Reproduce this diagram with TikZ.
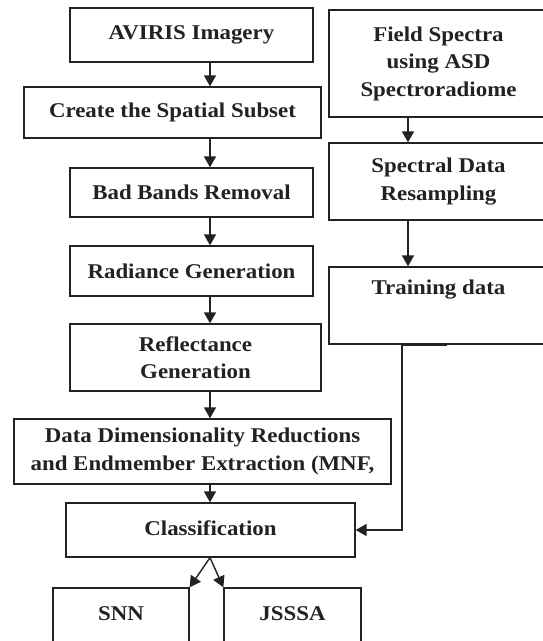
\documentclass[tikz,border=0pt]{standalone}
\usepackage{fontspec}
\setmainfont{Liberation Serif}[FakeStretch=1.09]
\usetikzlibrary{arrows.meta}
\definecolor{ink}{HTML}{222222}
\begin{document}
\begin{tikzpicture}[x=1pt,y=-1pt,
  box/.style={draw=ink, line width=1.3pt, inner sep=0pt, align=center,
    font=\fontsize{21}{27.5}\selectfont\bfseries, text=ink},
  arr/.style={draw=ink, line width=1.4pt, -{Triangle[width=12pt,length=11pt]}},
  link/.style={draw=ink, line width=1.4pt}]
\useasboundingbox (0,0) rectangle (543,641);
\clip (0,0) rectangle (543,641);
\fill[white] (0,0) rectangle (543,641);
% left column
\node[box, minimum width=243pt, minimum height=54pt] (aviris) at (191.5,35) {\raisebox{3pt}{AVIRIS Imagery}};
\node[box, minimum width=297pt, minimum height=51pt] (subset) at (172.5,112.5) {Create the Spatial Subset};
\node[box, minimum width=243pt, minimum height=49pt] (bad) at (191.5,192.5) {Bad Bands Removal};
\node[box, minimum width=243pt, minimum height=50pt] (rad) at (191.5,271) {Radiance Generation};
\node[box, minimum width=251pt, minimum height=67pt] (refl) at (195.5,357.5) {Reflectance\\Generation};
\node[box, minimum width=377pt, minimum height=65pt] (ddr) at (202.5,451.5) {Data Dimensionality Reductions\\and Endmember Extraction (MNF,};
\node[box, minimum width=289pt, minimum height=54pt] (cls) at (210.5,530) {\raisebox{4pt}{Classification}};
\node[box, minimum width=136pt, minimum height=60pt] (snn) at (121,618) {\raisebox{8pt}{SNN}};
\node[box, minimum width=137pt, minimum height=60pt] (jsssa) at (292.5,618) {\raisebox{8pt}{JSSSA}};
% right column
\node[box, minimum width=219pt, minimum height=107pt] (field) at (438.5,63.5) {Field Spectra\\using ASD\\Spectroradiome};
\node[box, minimum width=219pt, minimum height=77pt] (resamp) at (438.5,181.5) {Spectral Data\\Resampling};
\node[box, minimum width=219pt, minimum height=77pt] (train) at (438.5,305.5) {Training data\\[10pt]\mbox{}};
% connector columns
\coordinate (lx) at (210,0);
\coordinate (rx) at (408,0);
\coordinate (tx) at (402,0);
\coordinate (tend) at (447,0);
% connectors
\draw[arr] (aviris.south -| lx) -- (subset.north -| lx);
\draw[arr] (subset.south -| lx) -- (bad.north -| lx);
\draw[arr] (bad.south -| lx) -- (rad.north -| lx);
\draw[arr] (rad.south -| lx) -- (refl.north -| lx);
\draw[arr] (refl.south -| lx) -- (ddr.north -| lx);
\draw[arr] (ddr.south -| lx) -- (cls.north -| lx);
\draw[arr] (field.south -| rx) -- (resamp.north -| rx);
\draw[arr] (resamp.south -| rx) -- (train.north -| rx);
\draw[draw=ink, line width=2.6pt] (train.south -| tx) -- (train.south -| tend);
\draw[arr] (train.south -| tx) |- (cls.east);
\draw[arr] (cls.south -| lx) -- (snn.north east);
\draw[arr] (cls.south -| lx) -- (jsssa.north west);
\end{tikzpicture}
\end{document}
